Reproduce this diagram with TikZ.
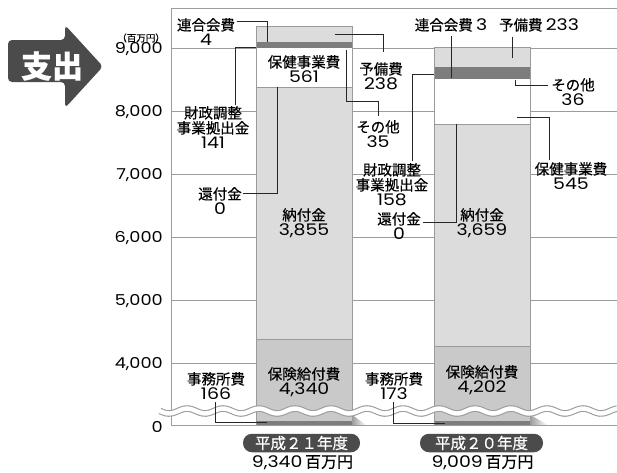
\documentclass[tikz,border=0pt]{standalone}
\usepackage{fontspec}
\setmainfont{Noto Sans CJK JP}[FakeBold=0.3]
\newfontfamily\nf{Poppins}[FakeStretch=1.18]
\definecolor{lgray}{HTML}{DCDCDD}
\definecolor{mgray}{HTML}{C9C9C9}
\definecolor{dgray}{HTML}{7D7D7D}
\definecolor{barc}{HTML}{9A9A9A}
\definecolor{gridc}{HTML}{9C9C9C}
\definecolor{pillc}{HTML}{4B4B4B}
\newcommand\nmb[1]{{\nf\fontsize{16}{15}\selectfont #1}}
\tikzset{
  gridline/.style={draw=gridc, line width=0.9pt},
  barline/.style={draw=barc, line width=1pt},
  ptr/.style={draw=black!85, line width=0.8pt},
  lbl/.style={align=center, inner sep=0pt, anchor=north, font=\fontsize{14.5}{15}\selectfont},
  ylab/.style={anchor=east, inner sep=0pt, font=\nf\fontsize{15}{15}\selectfont},
  pill/.style={fill=pillc, text=white, rounded corners=9pt, minimum width=117pt, minimum height=18.5pt, inner sep=0pt, font=\fontsize{15.5}{16}\selectfont},
  total/.style={inner sep=0pt, font=\fontsize{16}{16}\selectfont},
}
\begin{document}
\begin{tikzpicture}[x=1pt,y=-1pt]
\useasboundingbox (0,0) rectangle (617,472);
% title arrow
\fill[pillc, rounded corners=4pt] (8,40) -- (65,40) -- (65,25) -- (103,66.5) -- (65,108) -- (65,82) -- (8,82) -- cycle;
\node[text=white, inner sep=0pt, font=\bfseries\fontsize{31}{31}\selectfont] (title) at (52,66) {支出};
% grid
\foreach \yy in {48,111,174,237,300,363} \draw[gridline] (171,\yy) -- (617,\yy);
\draw[gridline] (171,8.5) -- (617,8.5);
\draw[gridline] (171,8.5) -- (171,425);
% y labels
\node[anchor=east, inner sep=0pt, font=\fontsize{9.5}{10}\selectfont] (unit) at (165,38) {（百万円）};
\node[ylab] (y9) at (163,49) {9,000};
\node[ylab] (y8) at (163,112) {8,000};
\node[ylab] (y7) at (163,175) {7,000};
\node[ylab] (y6) at (163,238) {6,000};
\node[ylab] (y5) at (163,301) {5,000};
\node[ylab] (y4) at (163,364) {4,000};
\node[ylab] (y0) at (163,427) {0};
% bar 1
\fill[mgray] (256,339) rectangle (352,425);
\fill[lgray] (256,87.3) rectangle (352,339);
\fill[white] (256,48.3) rectangle (352,87.3);
\fill[dgray] (256,41.7) rectangle (352,48.3);
\fill[lgray] (256,26) rectangle (352,41.7);
\fill[dgray] (256,421) rectangle (352,425);
\draw[barline] (256,26) rectangle (352,425);
\draw[barline] (256,87.3) -- (352,87.3);
\draw[barline] (256,339) -- (352,339);
% bar 2
\fill[mgray] (434,346) rectangle (530,425);
\fill[lgray] (434,124.3) rectangle (530,346);
\fill[white] (434,79) rectangle (530,124.3);
\fill[dgray] (434,66.7) rectangle (530,79);
\fill[lgray] (434,47) rectangle (530,66.7);
\fill[dgray] (434,421) rectangle (530,425);
\draw[barline] (434,47) rectangle (530,425);
\draw[barline] (434,124.3) -- (530,124.3);
\draw[barline] (434,346) -- (530,346);
% shadows
\shade[left color=gray!75, right color=white] (352.5,425) -- (352.5,415) -- (366,425) -- cycle;
\shade[left color=gray!75, right color=white] (530.5,425) -- (530.5,415) -- (548,425) -- cycle;
% wave break
\draw[draw=gridc, line width=6.6pt] plot[domain=160:617, samples=160, smooth] (\x, {411+2.5*sin((\x-160)*10)});
\draw[draw=white, line width=4.4pt] plot[domain=158:619, samples=160, smooth] (\x, {411+2.5*sin((\x-160)*10)});
\draw[gridline] (171,425) -- (617,425);
% labels bar 1
\node[lbl] (L1) at (206,18) {連合会費\\\nmb{4}};
\node[lbl] (L2) at (213,106) {財政調整\\事業拠出金\\\nmb{141}};
\node[lbl] (L3) at (220,187) {還付金\\\nmb{0}};
\node[lbl] (L4) at (216,372) {事務所費\\\nmb{166}};
\node[lbl] (L5) at (304,55) {保健事業費\\\nmb{561}};
\node[lbl] (L6) at (304,208) {納付金\\\nmb{3,855}};
\node[lbl] (L7) at (304,367) {保険給付費\\\nmb{4,340}};
\node[lbl] (L8) at (381,62) {予備費\\\nmb{238}};
\node[lbl] (L9) at (378,120) {その他\\\nmb{35}};
% labels bar 2
\node[lbl] (M1) at (451,18) {連合会費 \nmb{3}};
\node[lbl] (M2) at (539,18) {予備費 \nmb{233}};
\node[lbl] (M3) at (573,78) {その他\\\nmb{36}};
\node[lbl] (M4) at (571,162) {保健事業費\\\nmb{545}};
\node[lbl] (M5) at (392,163) {財政調整\\事業拠出金\\\nmb{158}};
\node[lbl] (M6) at (399,212) {還付金\\\nmb{0}};
\node[lbl] (M7) at (482,208) {納付金\\\nmb{3,659}};
\node[lbl] (M8) at (482,365) {保険給付費\\\nmb{4,202}};
\node[lbl] (M9) at (394,372) {事務所費\\\nmb{173}};
% pointer coordinates
\coordinate (a1) at (237,21);   \coordinate (b1) at (267,42);
\coordinate (a2) at (235,105);  \coordinate (b2) at (256,47);
\coordinate (a3) at (243,193);  \coordinate (b3) at (277,87.3);
\coordinate (a4) at (215,402);  \coordinate (b4) at (267,422.7);
\coordinate (a5) at (383,52);   \coordinate (b5) at (335,34);
\coordinate (a6) at (378,116);  \coordinate (b6) at (346,50);
\coordinate (a7) at (451,36);   \coordinate (b7) at (451,78);
\coordinate (a8) at (512,37);   \coordinate (b8) at (512,58);
\coordinate (a9) at (548,85);   \coordinate (b9) at (515,79.5);
\coordinate (a10) at (549,160); \coordinate (b10) at (517,117);
\coordinate (a11) at (412,161); \coordinate (b11) at (434,74);
\coordinate (a12) at (423,222); \coordinate (b12) at (456,124.3);
\coordinate (a13) at (393,402); \coordinate (b13) at (445,423);
\draw[ptr] (a1) -| (b1);
\draw[ptr] (a2) |- (b2);
\draw[ptr] (a3) -| (b3);
\draw[ptr] (a4) |- (b4);
\draw[ptr] (a5) |- (b5);
\draw[ptr] (a6) -- (378,101) -| (b6);
\draw[ptr] (a7) -- (b7);
\draw[ptr] (a8) -- (b8);
\draw[ptr] (a9) -| (b9);
\draw[ptr] (a10) |- (b10);
\draw[ptr] (a11) |- (b11);
\draw[ptr] (a12) -| (b12);
\draw[ptr] (a13) |- (b13);
% year pills and totals
\node[pill] (Y1) at (301.5,443) {平成２１年度};
\node[pill, minimum width=123pt] (Y2) at (481.5,443) {平成２０年度};
\node[total] (T1) at (302.5,462.5) {\nmb{9,340}\,百万円};
\node[total] (T2) at (482.5,462.5) {\nmb{9,009}\,百万円};
\end{tikzpicture}
\end{document}
